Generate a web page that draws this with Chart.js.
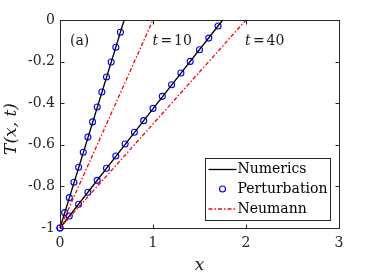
<!DOCTYPE html>
<html>
<head>
<meta charset="utf-8">
<title>T(x,t) profiles</title>
<style>
  html, body { margin: 0; padding: 0; background: #fff; }
  #wrap { width: 374px; height: 280px; }
</style>
</head>
<body>
<div id="wrap"><canvas id="tempChart" width="374" height="280"></canvas></div>
<script src="https://cdn.jsdelivr.net/npm/chart.js"></script>
<script>
// data
const xTicks = [0, 1, 2, 3];
const xTickLabels = ['0', '1', '2', '3'];
const yTicks = [-1, -0.8, -0.6, -0.4, -0.2, 0];
const yTickLabels = ['-1', '-0.8', '-0.6', '-0.4', '-0.2', '0'];

// numerics (solid black)
const xNum10 = [0, 0.35, 0.69];
const tNum10 = [-1, -0.494, 0];
const xNum40 = [0, 0.9, 1.75];
const tNum40 = [-1, -0.484, 0];

// perturbation (blue circles)
const xPert10 = [0, 0.05, 0.1, 0.15, 0.2, 0.25, 0.3, 0.35, 0.4, 0.45, 0.5, 0.55, 0.6, 0.65];
const tPert10 = [-1, -0.926, -0.854, -0.780, -0.708, -0.636, -0.563, -0.490, -0.418, -0.346, -0.274, -0.202, -0.131, -0.059];
const xPert40 = [0, 0.1, 0.2, 0.3, 0.4, 0.5, 0.6, 0.7, 0.8, 0.9, 1.0, 1.1, 1.2, 1.3, 1.4, 1.5, 1.6, 1.7];
const tPert40 = [-1, -0.942, -0.886, -0.828, -0.771, -0.713, -0.654, -0.596, -0.540, -0.484, -0.425, -0.367, -0.311, -0.255, -0.199, -0.143, -0.087, -0.029];

// Neumann (red dash-dot)
const xNeu10 = [0, 1];
const tNeu10 = [-1, 0];
const xNeu40 = [0, 2];
const tNeu40 = [-1, 0];

const axisColor = '#262626';
const serif = '"DejaVu Serif", serif';

function pts(xs, ys) {
    return xs.map((x, i) => ({x: x, y: ys[i]}));
}

function lineSet(label, xs, ys, color, dash) {
    return {
        label: label,
        data: pts(xs, ys),
        showLine: true,
        borderColor: color,
        borderWidth: 1.3,
        borderDash: dash || [],
        pointRadius: 0,
        fill: false
    };
}

function circleSet(label, xs, ys) {
    return {
        label: label,
        data: pts(xs, ys),
        showLine: false,
        pointStyle: 'circle',
        pointRadius: 3,
        pointBorderWidth: 1.1,
        pointBorderColor: '#0000ff',
        pointBackgroundColor: 'rgba(0,0,0,0)'
    };
}

const neuDash = [4, 2, 1.5, 2];

// box, inward ticks, texts and legend
const decorPlugin = {
    id: 'decor',
    afterDraw(chart) {
        const ctx = chart.ctx;
        const a = chart.chartArea;
        const xs = chart.scales.x, ys = chart.scales.y;
        const L = Math.round(a.left) + 0.5, R = Math.round(a.right) + 0.5;
        const T = Math.round(a.top) + 0.5, B = Math.round(a.bottom) + 0.5;
        ctx.save();
        ctx.strokeStyle = axisColor;
        ctx.lineWidth = 1;
        ctx.strokeRect(L, T, R - L, B - T);
        const tl = 4;
        ctx.beginPath();
        xTicks.forEach(v => {
            const px = Math.round(xs.getPixelForValue(v)) + 0.5;
            ctx.moveTo(px, B); ctx.lineTo(px, B - tl);
            ctx.moveTo(px, T); ctx.lineTo(px, T + tl);
        });
        yTicks.forEach(v => {
            const py = Math.round(ys.getPixelForValue(v)) + 0.5;
            ctx.moveTo(L, py); ctx.lineTo(L + tl, py);
            ctx.moveTo(R, py); ctx.lineTo(R - tl, py);
        });
        ctx.stroke();

        // texts
        ctx.fillStyle = '#1a1a1a';
        ctx.textBaseline = 'middle';
        ctx.textAlign = 'left';
        ctx.font = '14px ' + serif;
        ctx.fillText('(a)', a.left + 10, a.top + 21);
        function tLabel(x0, num) {
            ctx.font = 'italic 14px ' + serif;
            ctx.fillText('t', x0, a.top + 21);
            ctx.font = '14px ' + serif;
            ctx.fillText('=', x0 + 8, a.top + 21);
            ctx.fillText(num, x0 + 21.5, a.top + 21);
        }
        tLabel(a.left + 92.5, '10');
        tLabel(a.left + 185, '40');

        // axis titles
        ctx.textAlign = 'center';
        ctx.font = 'italic 17px ' + serif;
        ctx.fillText('x', (a.left + a.right) / 2, 266);
        ctx.save();
        ctx.translate(12, 129);
        ctx.rotate(-Math.PI / 2);
        ctx.fillText('T(x, t)', 0, 0);
        ctx.restore();

        // legend
        const bx = a.left + 145.5, by = a.top + 138.5, bw = 125, bh = 62;
        ctx.fillStyle = '#fff';
        ctx.fillRect(bx, by, bw, bh);
        ctx.strokeStyle = axisColor;
        ctx.strokeRect(bx, by, bw, bh);
        const sx0 = bx + 3, sx1 = bx + 31, tx = bx + 32;
        const rows = [by + 11, by + 30.5, by + 50.5];
        ctx.lineWidth = 1.3;
        ctx.strokeStyle = '#000';
        ctx.beginPath(); ctx.moveTo(sx0, rows[0]); ctx.lineTo(sx1, rows[0]); ctx.stroke();
        ctx.lineWidth = 1.1;
        ctx.strokeStyle = '#0000ff';
        ctx.beginPath(); ctx.arc((sx0 + sx1) / 2, rows[1], 3, 0, Math.PI * 2); ctx.stroke();
        ctx.strokeStyle = '#ff0000';
        ctx.lineWidth = 1.3;
        ctx.setLineDash(neuDash);
        ctx.beginPath(); ctx.moveTo(sx0, rows[2]); ctx.lineTo(sx1, rows[2]); ctx.stroke();
        ctx.setLineDash([]);
        ctx.fillStyle = '#000';
        ctx.textAlign = 'left';
        ctx.font = '14px ' + serif;
        ctx.fillText('Numerics', tx, rows[0]);
        ctx.fillText('Perturbation', tx, rows[1]);
        ctx.fillText('Neumann', tx, rows[2]);
        ctx.restore();
    }
};

new Chart(document.getElementById('tempChart'), {
    type: 'scatter',
    data: {
        datasets: [
            lineSet('Neumann t=10', xNeu10, tNeu10, '#ff0000', neuDash),
            lineSet('Neumann t=40', xNeu40, tNeu40, '#ff0000', neuDash),
            lineSet('Numerics t=10', xNum10, tNum10, '#000000'),
            lineSet('Numerics t=40', xNum40, tNum40, '#000000'),
            circleSet('Perturbation t=10', xPert10, tPert10),
            circleSet('Perturbation t=40', xPert40, tPert40)
        ]
    },
    options: {
        responsive: false,
        animation: false,
        clip: false,
        layout: { padding: { top: 20, right: 35, left: 0, bottom: 0 }, autoPadding: false },
        plugins: { legend: { display: false }, tooltip: { enabled: false } },
        scales: {
            x: {
                type: 'linear', min: 0, max: 3,
                grid: { display: false, drawTicks: false },
                border: { display: false },
                afterBuildTicks: s => { s.ticks = xTicks.map(v => ({value: v})); },
                afterFit: s => { s.height = 52; },
                ticks: {
                    padding: 7, maxRotation: 0, color: '#262626',
                    font: { family: serif, size: 14 },
                    callback: (v, i) => xTickLabels[i]
                }
            },
            y: {
                type: 'linear', min: -1, max: 0,
                grid: { display: false, drawTicks: false },
                border: { display: false },
                afterBuildTicks: s => { s.ticks = yTicks.map(v => ({value: v})); },
                afterFit: s => { s.width = 60; },
                ticks: {
                    padding: 5, color: '#262626',
                    font: { family: serif, size: 14 },
                    callback: (v, i) => yTickLabels[i]
                }
            }
        }
    },
    plugins: [decorPlugin]
});
</script>
</body>
</html>
